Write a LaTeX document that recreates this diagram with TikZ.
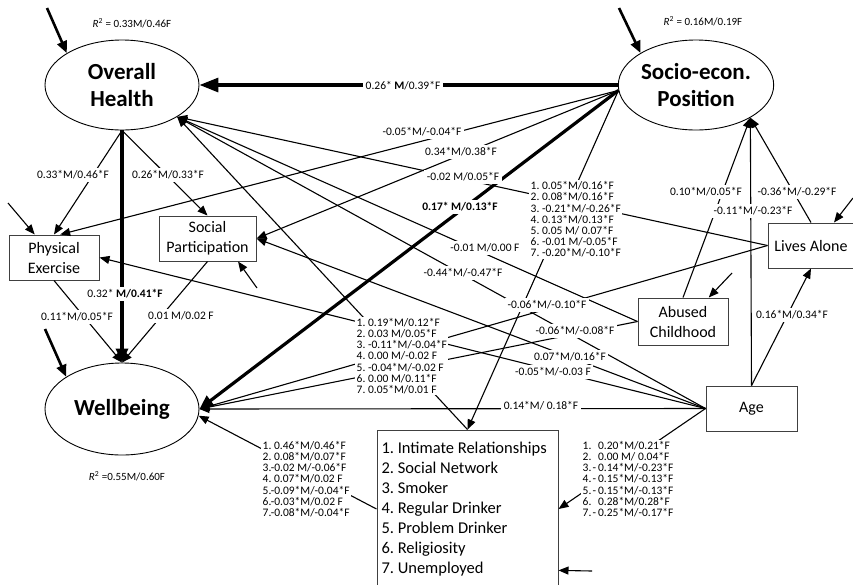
\documentclass[tikz,border=0pt]{standalone}
\usepackage{fontspec}
\setmainfont{Carlito}
\usetikzlibrary{arrows.meta,shapes.geometric}

\newcommand{\nr}[1]{\makebox[10pt][l]{#1.}}
\setlength{\lineskiplimit}{-10pt}
\frenchspacing

\tikzset{
  ell/.style={draw, ellipse, line width=0.9pt, inner sep=0pt, minimum width=154pt, minimum height=90pt, align=center, font=\fontsize{23}{27}\selectfont\bfseries},
  box/.style={draw=black!75, rectangle, line width=1pt, inner sep=0pt, minimum height=45pt, align=center, font=\fontsize{16}{20}\selectfont},
  lbl/.style={fill=white, inner sep=2.5pt, font=\fontsize{11.5}{11.5}\selectfont},
  lst/.style={fill=white, inner sep=1.5pt, align=left, anchor=west, font=\fontsize{11.5}{11.2}\selectfont},
  rsq/.style={inner sep=1pt, font=\fontsize{11}{11}\selectfont},
  arr/.style={line width=1.1pt, -{Triangle[length=10pt,width=8pt]}},
  bigarr/.style={line width=3.2pt, -{Triangle[length=19pt,width=14pt]}},
  thkarr/.style={line width=3.2pt, -{Triangle[length=14pt,width=12pt]}},
  extarr/.style={line width=2.6pt, -{Triangle[length=12pt,width=10pt]}},
}

\begin{document}
\begin{tikzpicture}[x=1pt,y=-1pt]
\useasboundingbox (0,0) rectangle (853,584);

% latent and observed variables
\node[ell] (oh) at (122,85) {Overall\\Health};
\node[ell] (soc) at (696,85) {Socio-econ.\\Position};
\node[ell, minimum height=92pt] (wb) at (122,409) {Wellbeing};
\node[box, minimum width=90pt] (pe) at (54,257.5) {Physical\\Exercise};
\node[box, minimum width=97pt] (sp) at (207.5,238.5) {Social\\Participation};
\node[box, minimum width=86pt] (la) at (811,245.5) {Lives Alone};
\node[box, minimum width=90pt, minimum height=47pt] (ab) at (683,321.5) {Abused\\Childhood};
\node[box, minimum width=91pt] (age) at (751.5,408.5) {Age};
\node[box, minimum width=181pt, minimum height=158pt, text width=172pt, inner xsep=4.5pt, align=flush left, font=\fontsize{16.5}{20}\selectfont] (lb) at (467.5,509)
  {1. Intimate Relationships\\2. Social Network\\3. Smoker\\4. Regular Drinker\\5. Problem Drinker\\6. Religiosity\\7. Unemployed};

% error terms
\coordinate (ohin) at (47,8);
\coordinate (socin) at (619,8);
\coordinate (wbin) at (45,329);
\coordinate (pein) at (8,203);
\coordinate (spin) at (257,288);
\coordinate (lain) at (853,198);
\coordinate (abin) at (732,273);
\coordinate (lbin) at (592,571);

\draw[extarr] (ohin) -- (oh.150);
\draw[extarr] (socin) -- (soc.150);
\draw[extarr] (wbin) -- (wb.150);
\draw[arr] (pein) -- (pe.130);
\draw[arr] (spin) -- (sp.-37);
\draw[arr] (lain) -- (la.45);
\draw[arr] (abin) -- (ab.43);
\draw[arr] (lbin) -- (lb.-34);

% paths
\draw[bigarr] (soc.west) -- (oh.east);
\draw[arr] (soc.184) -- (pe.75);
\draw[arr] (soc.184) -- (sp.east);
\draw[thkarr] (soc.184) -- (wb.east);
\draw[arr] (soc.184) -- (lb.north);
\draw[arr] (oh.south) -- (pe.north);
\draw[arr] (oh.south) -- (sp.north);
\draw[thkarr] (oh.south) -- (wb.north);
\draw[arr] (pe.south) -- (wb.north);
\draw[arr] (sp.south) -- (wb.north);
\draw[arr] (la.west) -- (oh.-30);
\draw[arr] (la.west) -- (wb.east);
\draw[arr] (la.north) -- (soc.-31);
\draw[arr] (ab.west) -- (oh.-30);
\draw[arr] (ab.west) -- (wb.east);
\draw[arr] (ab.north) -- (soc.-31);
\draw[arr] (age.west) -- (oh.-30);
\draw[arr] (age.west) -- (pe.east);
\draw[arr] (age.west) -- (sp.east);
\draw[arr] (age.west) -- (wb.east);
\draw[arr] (age.west) -- (lb.east);
\draw[arr] (age.north) -- (soc.-31);
\draw[arr] (age.north) -- (la.south);
\draw[arr] (lb.north) -- (oh.-30);
\draw[arr] (lb.west) -- (wb.-5);

% coefficients
\node[lbl] (lA) at (403,86) {0.26* \textbf{M}/0.39*F};
\node[lbl] (lB) at (422,132) {-0.05*M/-0.04*F};
\node[lbl] (lC) at (461,152) {0.34*M/0.38*F};
\node[lbl] (lD) at (463,177) {-0.02 M/0.05*F};
\node[lbl] (lE) at (460,207) {\textbf{0.17* M/0.13*F}};
\node[lbl] (lG) at (485,248) {-0.01 M/0.00 F};
\node[lbl] (lH) at (463,273) {-0.44*M/-0.47*F};
\node[lbl] (lI) at (547,305) {-0.06*M/-0.10*F};
\node[lbl] (lJ) at (575,331) {-0.06*M/-0.08*F};
\node[lbl] (lK) at (570,357) {0.07*M/0.16*F};
\node[lbl] (lL) at (553,372) {-0.05*M/-0.03 F};
\node[lbl] (lN) at (541,406) {0.14*M/ 0.18*F};
\node[lbl] (lQ) at (706,192) {0.10*M/0.05*F};
\node[lbl] (lR) at (797,192) {-0.36*M/-0.29*F};
\node[lbl] (lS) at (753,211) {-0.11*M/-0.23*F};
\node[lbl] (lT) at (792,315) {0.16*M/0.34*F};
\node[lbl] (lU) at (73,175) {0.33*M/0.46*F};
\node[lbl] (lV) at (168,175) {0.26*M/0.33*F};
\node[lbl] (lW) at (125,294) {0.32* \textbf{M/0.41*F}};
\node[lbl] (lX) at (77,317) {0.11*M/0.05*F};
\node[lbl] (lY) at (181,316) {0.01 M/0.02 F};

\node[lst] (lF) at (529,219.5) {1. 0.05*M/0.16*F\\2. 0.08*M/0.16*F\\3. -0.21*M/-0.26*F\\4. 0.13*M/0.13*F\\5. 0.05 M/ 0.07*F\\6. -0.01 M/-0.05*F\\7. -0.20*M/-0.10*F};
\node[lst] (lM) at (355,356) {1. 0.19*M/0.12*F\\2. 0.03 M/0.05*F\\3. -0.11*M/-0.04*F\\4. 0.00 M/-0.02 F\\5. -0.04*M/-0.02 F\\6. 0.00 M/0.11*F\\7. 0.05*M/0.01 F};
\node[lst] (lO) at (261,479) {1. 0.46*M/0.46*F\\2. 0.08*M/0.07*F\\3.-0.02 M/-0.06*F\\4. 0.07*M/0.02 F\\5.-0.09*M/-0.04*F\\6.-0.03*M/0.02 F\\7.-0.08*M/-0.04*F};
\node[lst] (lP) at (581,479) {\nr{1}\hphantom{-\,}0.20*M/0.21*F\\\nr{2}\hphantom{-\,}0.00 M/ 0.04*F\\\nr{3}-\,0.14*M/-0.23*F\\\nr{4}-\,0.15*M/-0.13*F\\\nr{5}-\,0.15*M/-0.13*F\\\nr{6}\hphantom{-\,}0.28*M/0.28*F\\\nr{7}-\,0.25*M/-0.17*F};

% explained variance
\node[rsq] (r2oh) at (132,23) {\textit{R}\textsuperscript{2} = 0.33M/0.46F};
\node[rsq] (r2soc) at (703,21) {\textit{R}\textsuperscript{2} = 0.16M/0.19F};
\node[rsq] (r2wb) at (127,476) {\textit{R}\textsuperscript{2} =0.55M/0.60F};
\end{tikzpicture}
\end{document}
